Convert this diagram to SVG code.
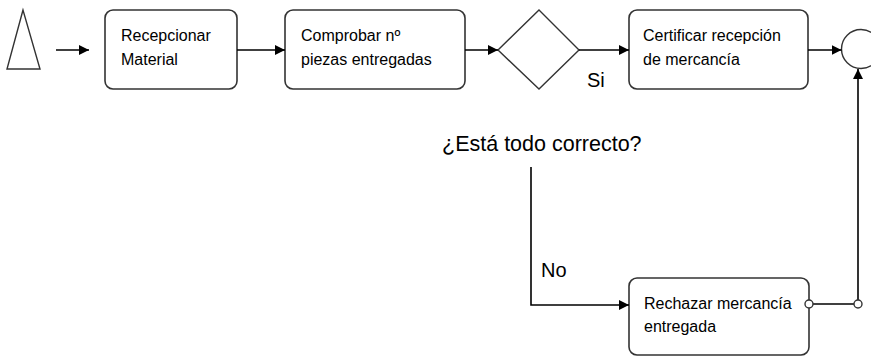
<svg xmlns="http://www.w3.org/2000/svg" width="871" height="357" viewBox="0 0 871 357">
<defs>
<style>
.box{fill:#fff;stroke:#333;stroke-width:1.6}
.shape{fill:#fff;stroke:#333;stroke-width:1.4}
.line{fill:none;stroke:#000;stroke-width:1.6}
.t{font-family:"Liberation Sans",Arial,sans-serif;font-size:16px;fill:#000}
.lbl{font-family:"Liberation Sans",Arial,sans-serif;font-size:20px;fill:#000}
.q{font-size:21.5px}
.dot{fill:#fff;stroke:#333;stroke-width:1.4}
</style>
<marker id="arr" viewBox="0 0 10 10" refX="10" refY="5" markerWidth="10" markerHeight="10" markerUnits="userSpaceOnUse" orient="auto">
<path d="M0,0 L10,5 L0,10 Z" fill="#000"/>
</marker>
</defs>
<rect width="871" height="357" fill="#fff"/>
<g id="start"><polygon class="shape" points="23,10 7,69 40,69"/></g>
<g id="n1"><rect class="box" x="105" y="10" width="132" height="79" rx="8"/>
<text class="t" x="121" y="41">Recepcionar</text><text class="t" x="121" y="65">Material</text></g>
<g id="n2"><rect class="box" x="285" y="10" width="180" height="79" rx="8"/>
<text class="t" x="301" y="41">Comprobar nº</text><text class="t" x="301" y="65">piezas entregadas</text></g>
<g id="gw"><polygon class="shape" points="539,10 579,50 539,89 498,50"/></g>
<g id="n3"><rect class="box" x="629" y="10" width="179" height="79" rx="8"/>
<text class="t" x="643" y="41">Certificar recepción</text><text class="t" x="643" y="65">de mercancía</text></g>
<g id="end"><circle class="shape" cx="861" cy="49" r="19.5"/></g>
<g id="n4"><rect class="box" x="629" y="278" width="180" height="77" rx="8"/>
<text class="t" x="644" y="309">Rechazar mercancía</text><text class="t" x="644" y="332">entregada</text></g>
<g id="connectors">
<line class="line" x1="56" y1="50" x2="89" y2="50" marker-end="url(#arr)"/>
<line class="line" x1="237" y1="50" x2="285" y2="50" marker-end="url(#arr)"/>
<line class="line" x1="465" y1="50" x2="498" y2="50" marker-end="url(#arr)"/>
<line class="line" x1="579" y1="50" x2="629" y2="50" marker-end="url(#arr)"/>
<line class="line" x1="808" y1="50" x2="841.5" y2="50" marker-end="url(#arr)"/>
<polyline class="line" points="531,167 531,305 629,305" marker-end="url(#arr)"/>
<line class="line" x1="809" y1="304" x2="858" y2="304"/>
<line class="line" x1="858" y1="300" x2="858" y2="69" marker-end="url(#arr)"/>
<circle class="dot" cx="809" cy="304" r="4"/>
<circle class="dot" cx="858" cy="304" r="4"/>
<text class="lbl" x="587" y="87">Si</text>
<text class="lbl" x="541" y="277">No</text>
<text class="lbl q" x="442" y="151">¿Está todo correcto?</text>
</g>
</svg>
